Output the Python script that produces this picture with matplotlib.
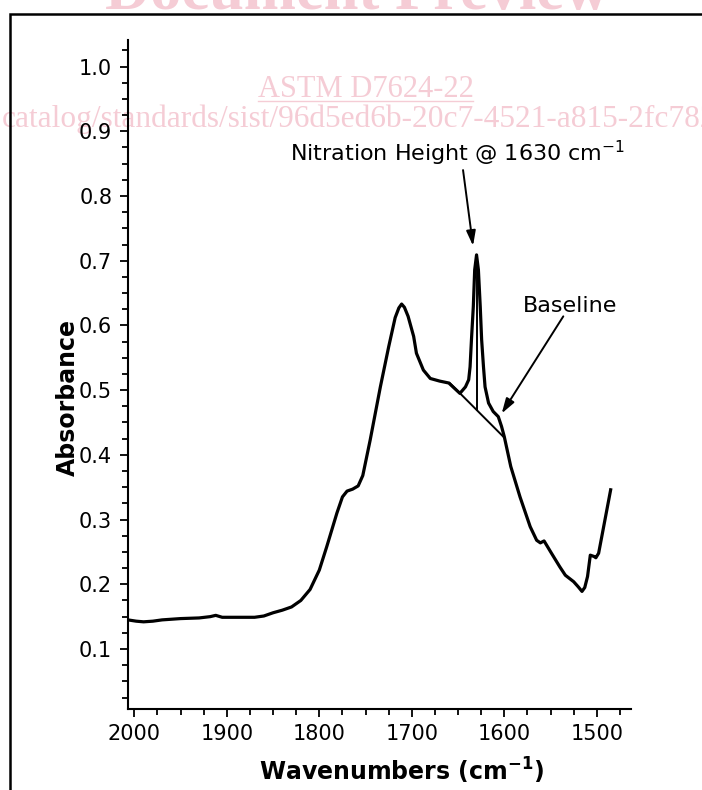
import matplotlib
matplotlib.use("Agg")
import matplotlib.pyplot as plt
from matplotlib.patches import Rectangle
from matplotlib.ticker import MultipleLocator
import numpy as np

plt.rcParams['font.family'] = ['DejaVu Sans']
plt.rcParams['mathtext.fontset'] = 'dejavusans'

# spectrum (wavenumber in cm-1, absorbance)
wavenumber = [2007, 1998, 1990, 1980, 1970, 1950, 1930, 1918, 1912, 1905,
              1890, 1870, 1860, 1850, 1840, 1830, 1820, 1810, 1800, 1792,
              1781, 1775, 1770, 1764, 1758, 1753, 1745, 1734, 1725, 1718,
              1714, 1711, 1708, 1704, 1698, 1695, 1687.5, 1680, 1670, 1660,
              1648, 1642, 1638.5, 1637, 1635.5, 1633.5, 1632, 1630, 1628, 1626,
              1624.5, 1622.5, 1620.8, 1617, 1612, 1606.5, 1603, 1600, 1593, 1583,
              1572, 1565, 1561, 1557, 1549, 1540, 1534, 1525, 1520, 1516,
              1513, 1510, 1507, 1503, 1501, 1498, 1485]
absorbance = [0.145, 0.143, 0.142, 0.143, 0.145, 0.147, 0.148, 0.150, 0.152, 0.149,
              0.149, 0.149, 0.151, 0.156, 0.160, 0.165, 0.175, 0.192, 0.222, 0.258,
              0.310, 0.335, 0.344, 0.347, 0.352, 0.368, 0.423, 0.505, 0.567, 0.612,
              0.627, 0.633, 0.628, 0.614, 0.583, 0.557, 0.531, 0.518, 0.514, 0.511,
              0.495, 0.505, 0.516, 0.536, 0.578, 0.629, 0.686, 0.709, 0.686, 0.629,
              0.578, 0.536, 0.505, 0.480, 0.467, 0.459, 0.444, 0.428, 0.382, 0.335,
              0.289, 0.268, 0.264, 0.267, 0.248, 0.227, 0.214, 0.204, 0.196, 0.189,
              0.195, 0.212, 0.245, 0.243, 0.241, 0.248, 0.346]

# baseline drawn under the nitration peak
baseline_w = [1659, 1601]
baseline_a = [0.511, 0.428]
peak_w = 1630
peak_a = 0.709

nitration_label = 'Nitration Height @ 1630 cm$^{-1}$'
baseline_label = 'Baseline'

fig = plt.figure(figsize=(7.02, 7.90), dpi=100)

# watermark of the preview page
wm_color = '#f5ccd5'
fig.text(357 / 702, 1 - 9 / 790, 'Document Preview', family='Liberation Serif',
         fontweight='bold', fontsize=45, color=wm_color, ha='center', va='baseline', zorder=-1)
fig.text(258 / 702, 1 - 97 / 790, 'ASTM D7624-22', family='Liberation Serif',
         fontsize=22, color=wm_color, ha='left', va='baseline', zorder=-1)
fig.add_artist(plt.Line2D([258 / 702, 473 / 702], [1 - 101 / 790, 1 - 101 / 790],
                          color=wm_color, lw=1, zorder=-1))
fig.text(2 / 702, 1 - 127 / 790, 'catalog/standards/sist/96d5ed6b-20c7-4521-a815-2fc78264c3e1/astm-d7624-22',
         family='Liberation Serif', fontsize=22.6, color=wm_color, ha='left', va='baseline', zorder=-1)

# page frame
fig.add_artist(Rectangle((9.5 / 702, -0.05), 1.0, 1.05 - 13.5 / 790, transform=fig.transFigure,
                         fill=False, ec='black', lw=1.8))

ax = fig.add_axes([127.5 / 702, 81 / 790, 503.5 / 702, 669 / 790])
ax.set_facecolor('none')

ax.plot(wavenumber, absorbance, color='black', linewidth=2.3, solid_joinstyle='round')
ax.plot(baseline_w, baseline_a, color='black', linewidth=1.4)
base_at_peak = np.interp(peak_w, baseline_w[::-1], baseline_a[::-1])
ax.plot([peak_w, peak_w], [base_at_peak, peak_a], color='black', linewidth=1.4)

ax.set_xlim(2007.4, 1463)
ax.set_ylim(0.0073, 1.041)
ax.xaxis.set_major_locator(MultipleLocator(100))
ax.xaxis.set_minor_locator(MultipleLocator(25))
ax.yaxis.set_minor_locator(MultipleLocator(0.025))
yticks = np.arange(0.1, 1.01, 0.1)
ax.set_yticks(yticks)
ax.set_yticklabels([f'{v:.1f}' for v in yticks])

for side in ('top', 'right'):
    ax.spines[side].set_visible(False)
for side in ('left', 'bottom'):
    ax.spines[side].set_linewidth(1.5)

ax.tick_params(which='major', length=6, width=1.3, labelsize=15, pad=5)
ax.tick_params(which='minor', length=4, width=1.3)

ax.set_xlabel('Wavenumbers (cm$^{\\mathbf{-1}}$)', fontsize=17, fontweight='bold')
ax.xaxis.set_label_coords(0.545, -0.07)
ax.set_ylabel('Absorbance', fontsize=17, fontweight='bold')
ax.yaxis.set_label_coords(-0.095, 0.465)

arrow = dict(arrowstyle='-|>,head_length=0.9,head_width=0.28', color='black', lw=1.4,
             shrinkA=0, shrinkB=0)
ax.annotate('', xy=(1633.8, 0.723), xytext=(1644.6, 0.840), arrowprops=arrow)
ax.text(1831.7, 0.854, nitration_label, fontsize=16, ha='left', va='baseline')

ax.annotate('', xy=(1602.8, 0.464), xytext=(1536.2, 0.614), arrowprops=arrow)
ax.text(1579.8, 0.621, baseline_label, fontsize=16, ha='left', va='baseline')

fig.savefig('out.png', dpi=100)
